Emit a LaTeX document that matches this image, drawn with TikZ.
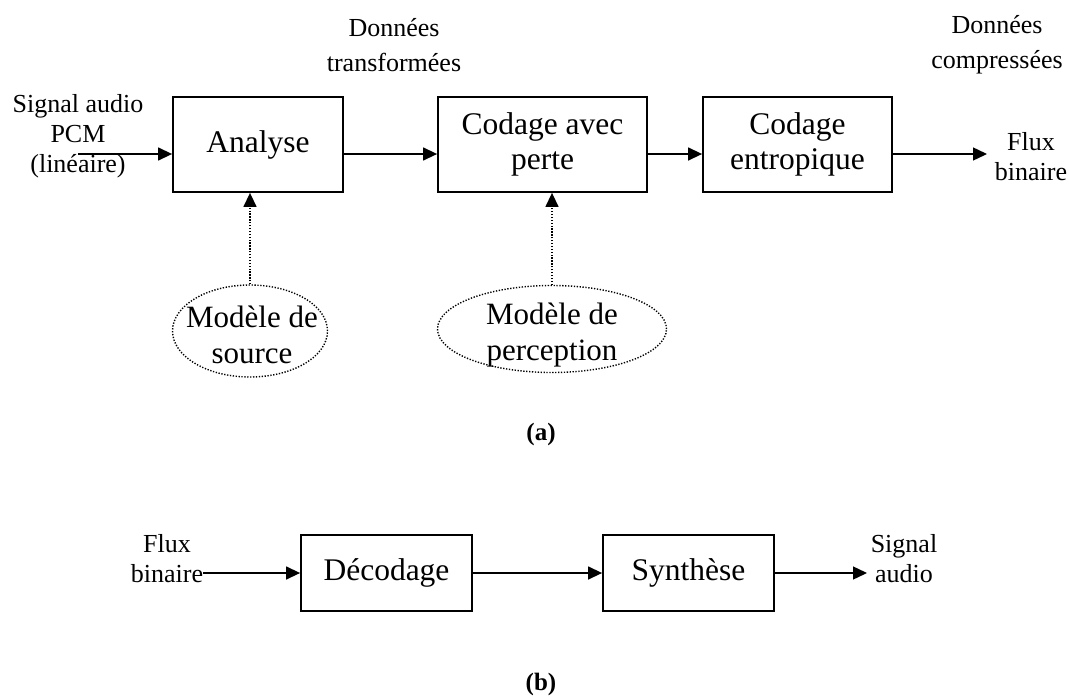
\documentclass[tikz,border=0pt]{standalone}
\usepackage{fontspec}
\setmainfont{Liberation Serif}
\usetikzlibrary{arrows.meta,shapes.geometric}
\begin{document}
\begin{tikzpicture}[x=1pt,y=-1pt,
  blockbox/.style={draw,line width=1.8pt,inner sep=0pt,align=center,
    font=\fontsize{31.5}{35}\selectfont},
  sidelabel/.style={inner sep=0pt,align=center,font=\fontsize{26}{30}\selectfont},
  toplabel/.style={inner sep=0pt,align=center,font=\fontsize{26}{35}\selectfont},
  modelshape/.style={draw,ellipse,line width=1.4pt,dash pattern=on 1.3pt off 1.6pt,inner sep=0pt},
  modeltext/.style={inner sep=0pt,align=center,font=\fontsize{31}{36}\selectfont},
  flow/.style={line width=1.4pt,-{Triangle[length=14pt,width=13pt]}},
  dotflow/.style={line width=1.4pt,dash pattern=on 1.3pt off 1.6pt,
    -{Triangle[length=14pt,width=13pt]}},
  caption/.style={inner sep=0pt,font=\fontsize{25}{30}\selectfont\bfseries}]
\useasboundingbox (0,0) rectangle (1069,699);
% (a) blocks
\node[blockbox,minimum width=170pt,minimum height=95pt] (ana) at (258,144.5) {Analyse};
\node[blockbox,minimum width=209pt,minimum height=95pt] (cap) at (542.5,144.5) {Codage avec\\perte};
\node[blockbox,minimum width=189pt,minimum height=95pt] (ent) at (797.5,144.5) {Codage\\entropique};
\coordinate (row) at (0,154);
% labels
\node[sidelabel] (sig) at (78,136) {Signal audio\\PCM\\(linéaire)};
\node[toplabel] (dt) at (394,45) {Données\\transformées};
\node[toplabel] (dc) at (997,45) {Données\\compressées};
\node[sidelabel] (fb) at (1031,157) {Flux\\binaire};
\coordinate (sigin) at (78,154);
\coordinate (out1) at (987,154);
% models
\node[modelshape,minimum width=155pt,minimum height=92pt] (ms) at (250,331) {};
\node[modeltext] (mstxt) at (252,335) {Modèle de\\source};
\node[modelshape,minimum width=229pt,minimum height=87pt] (mp) at (552,329) {};
\node[modeltext] (mptxt) at (552,335) {Modèle de\\perception};
% connectors (a)
\draw[flow] (sigin) -- (ana.west |- row);
\draw[flow] (ana.east |- row) -- (cap.west |- row);
\draw[flow] (cap.east |- row) -- (ent.west |- row);
\draw[flow] (ent.east |- row) -- (out1);
\draw[dotflow] (ms.north) -- (ms.north |- ana.south);
\draw[dotflow] (mp.north) -- (mp.north |- cap.south);
\node[caption] (capa) at (541,434) {(a)};
% (b)
\node[blockbox,minimum width=171pt,minimum height=76pt] (dec) at (386.5,573) {Décodage};
\node[blockbox,minimum width=171pt,minimum height=76pt] (syn) at (688.5,573) {Synthèse};
\node[sidelabel] (fb2) at (167,559) {Flux\\binaire};
\node[sidelabel] (sa) at (904,559) {Signal\\audio};
\coordinate (out2) at (867,573);
\draw[flow] (fb2.east |- dec.west) -- (dec.west);
\draw[flow] (dec.east) -- (syn.west);
\draw[flow] (syn.east) -- (out2);
\node[caption] (capb) at (541,684) {(b)};
\end{tikzpicture}
\end{document}
